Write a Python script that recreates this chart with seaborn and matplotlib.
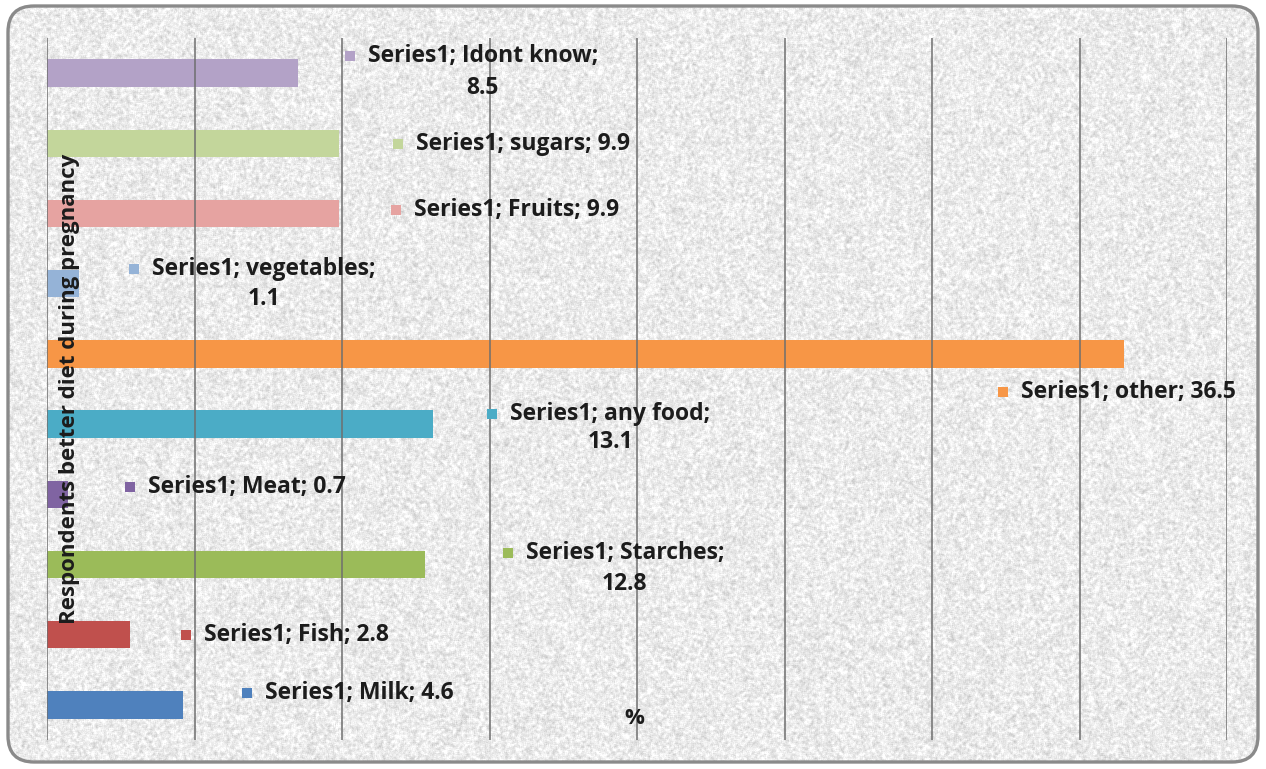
import numpy as np
import pandas as pd
import matplotlib
matplotlib.use("Agg")
import matplotlib.pyplot as plt
import matplotlib.transforms as mtransforms
from matplotlib.patches import FancyBboxPatch
import seaborn as sns

# ---- data -------------------------------------------------------------
series_name = "Series1"
categories = ["Idont know", "sugars", "Fruits", "vegetables", "other",
              "any food", "Meat", "Starches", "Fish", "Milk"]
values = [8.5, 9.9, 9.9, 1.1, 36.5, 13.1, 0.7, 12.8, 2.8, 4.6]
bar_colors = ["#B3A2C7", "#C3D69B", "#E6A3A1", "#95B3D7", "#F79646",
              "#4BACC6", "#8064A2", "#9BBB59", "#C0504D", "#4F81BD"]
y_title = "Respondents better diet during pregnancy"
x_title = "%"

# label placement: pixel offset of the key square from the bar end,
# vertical offset (pixels, downward) of the first text line from the bar
# centre, and whether the value goes on a second line
label_dx = [47, 54, 52, 50, -126, 54, 57, 78, 51, 59]
label_dy = [-17, 1, -3, -15, 38, -10, -7, -12, 0, -12]
label_wrap = [True, False, False, True, False, True, False, True, False, False]
wrap_gap = [32, 0, 0, 30, 0, 28, 0, 32, 0, 0]

# ---- style ------------------------------------------------------------
sns.set_theme(style="white")
plt.rcParams["font.family"] = ["Open Sans", "DejaVu Sans"]

W, H = 1266, 769
fig = plt.figure(figsize=(W / 100, H / 100), dpi=100)
fig.patch.set_facecolor("white")

# background layer in pixel coordinates: rounded frame with granite texture
bg = fig.add_axes([0, 0, 1, 1])
bg.set_xlim(0, W)
bg.set_ylim(H, 0)
bg.axis("off")

frame = FancyBboxPatch((8, 6), W - 16, H - 13,
                       boxstyle="round,pad=0,rounding_size=26",
                       fc="#ececec", ec="none", zorder=0)
bg.add_patch(frame)

gy, gx = np.mgrid[0:H, 0:W].astype(float)


def grain(x, y, a, b):
    v = np.sin(x * a + y * b) * 43758.5453
    return v - np.floor(v)


g = grain(gx, gy, 12.9898, 78.233)
acc = np.zeros_like(g)
for sy in (-1, 0, 1):
    for sx in (-1, 0, 1):
        acc += np.roll(np.roll(g, sy, axis=0), sx, axis=1)
acc /= 9.0
fine = grain(gx, gy, 39.3467, 11.135)
tone = 0.925 + (acc - acc.mean()) * 0.40 + (fine - 0.5) * 0.05
tone = np.clip(tone, 0.78, 1.0)
tex = np.dstack([tone, tone, tone])
img = bg.imshow(tex, extent=(0, W, H, 0), interpolation="bilinear",
                zorder=1, aspect="auto")
img.set_clip_path(frame)

border = FancyBboxPatch((8, 6), W - 16, H - 13,
                        boxstyle="round,pad=0,rounding_size=26",
                        fc="none", ec="#8a8a8a", lw=2.4, zorder=2)
bg.add_patch(border)

# ---- chart ------------------------------------------------------------
ax = fig.add_axes([47 / W, 29 / H, 1180 / W, 702 / H])
ax.patch.set_alpha(0)

df = pd.DataFrame({"category": categories, "value": values})
sns.barplot(data=df, x="value", y="category", hue="category",
            order=categories, hue_order=categories,
            palette=dict(zip(categories, bar_colors)),
            width=0.39, saturation=1, legend=False,
            linewidth=0, ax=ax, zorder=2)

ax.set_xlim(0, 40)
ax.set_ylim(9.5, -0.5)
ax.set_xticks(np.arange(0, 41, 5))
ax.grid(axis="x", color="#6f6f6f", lw=1.1, zorder=3)
ax.grid(axis="y", visible=False)
for gl in ax.get_xgridlines():
    gl.set_zorder(3)
ax.set_axisbelow(False)
ax.tick_params(length=0, labelbottom=False, labelleft=False)
for s in ax.spines.values():
    s.set_visible(False)
ax.set_xlabel("")
ax.set_ylabel("")

txt_kw = dict(fontsize=16.5, fontweight="bold", color="#1c1c1c")

for i, (cat, val) in enumerate(zip(categories, values)):
    dx, dy = label_dx[i], label_dy[i]
    sq = mtransforms.offset_copy(ax.transData, fig=fig, x=dx + 5, y=-dy,
                                 units="dots")
    ax.plot([val], [i], marker="s", ms=7.5, mew=0, color=bar_colors[i],
            transform=sq, zorder=4, clip_on=False)
    if label_wrap[i]:
        first = ax.annotate(f"{series_name}; {cat};", xy=(val, i),
                            xytext=(dx + 23, -dy), textcoords="offset pixels",
                            ha="left", va="center", zorder=5, **txt_kw)
        ax.annotate(f"{val}", xy=(0.5, 0.5), xycoords=first,
                    xytext=(0, -wrap_gap[i]), textcoords="offset pixels",
                    ha="center", va="center", zorder=5, **txt_kw)
    else:
        ax.annotate(f"{series_name}; {cat}; {val}", xy=(val, i),
                    xytext=(dx + 23, -dy), textcoords="offset pixels",
                    ha="left", va="center", zorder=5, **txt_kw)

ytxt = dict(txt_kw, fontsize=16)
ax.text((70 - 47) / 1180, 0.5, y_title, transform=ax.transAxes,
        rotation=90, ha="center", va="center", zorder=5, **ytxt)
ax.text(0.498, (740 - 718) / 702, x_title, transform=ax.transAxes,
        ha="center", va="center", zorder=5, **ytxt)

fig.savefig("out.png", dpi=100, facecolor="white")
